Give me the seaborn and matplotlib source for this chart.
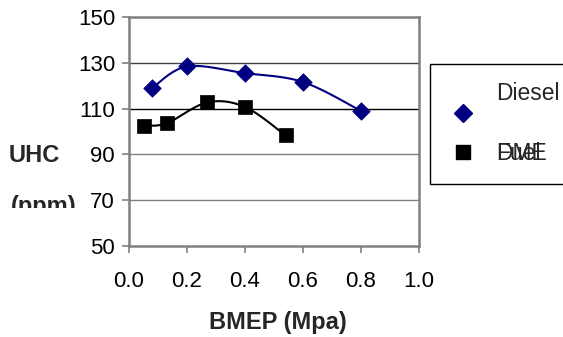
import numpy as np
import pandas as pd
import matplotlib
matplotlib.use("Agg")
import matplotlib.pyplot as plt
import seaborn as sns
from matplotlib.lines import Line2D
from matplotlib.patches import Rectangle
from matplotlib.transforms import Bbox

# ---- data ----
diesel_bmep = [0.08, 0.20, 0.40, 0.60, 0.80]
diesel_uhc = [119.0, 128.4, 125.5, 121.6, 109.0]
dme_bmep = [0.05, 0.13, 0.27, 0.40, 0.54]
dme_uhc = [102.6, 103.6, 112.7, 110.7, 98.3]
xticks = [0.0, 0.2, 0.4, 0.6, 0.8, 1.0]
yticks = [50, 70, 90, 110, 130, 150]


def smooth(xs, ys, n=30):
    """Excel-like smoothed line: cubic Bezier segments with Catmull-Rom controls."""
    p = np.column_stack([xs, ys]).astype(float)
    pts = []
    for i in range(len(p) - 1):
        p0 = p[i - 1] if i > 0 else p[i]
        p1 = p[i]
        p2 = p[i + 1]
        p3 = p[i + 2] if i + 2 < len(p) else p[i + 1]
        c1 = p1 + (p2 - p0) / 6.0
        c2 = p2 - (p3 - p1) / 6.0
        t = np.linspace(0, 1, n)[:, None]
        seg = ((1 - t) ** 3) * p1 + 3 * ((1 - t) ** 2) * t * c1 + 3 * (1 - t) * t ** 2 * c2 + t ** 3 * p2
        pts.append(seg if i == 0 else seg[1:])
    arr = np.vstack(pts)
    return arr[:, 0], arr[:, 1]


sns.set_theme(style="white")
plt.rcParams["font.family"] = ["Liberation Sans", "DejaVu Sans"]

W, H = 563, 337
fig = plt.figure(figsize=(W / 100, H / 100), dpi=100)
ax = fig.add_axes([129 / W, (H - 246) / H, (419 - 129) / W, (246 - 17) / H])

# gridlines
grid_colors = {70: "#808080", 90: "#808080", 110: "#000000", 130: "#404040"}
for yv, c in grid_colors.items():
    ax.axhline(yv, color=c, lw=1.0, zorder=1)

# smoothed curves
dx, dy = smooth(diesel_bmep, diesel_uhc)
mx, my = smooth(dme_bmep, dme_uhc)
sns.lineplot(x=dx, y=dy, sort=False, estimator=None, color="#000080", lw=1.5, ax=ax, zorder=3)
sns.lineplot(x=mx, y=my, sort=False, estimator=None, color="#000000", lw=1.5, ax=ax, zorder=3)

# markers
sns.scatterplot(x=diesel_bmep, y=diesel_uhc, marker="D", s=80, color="#000080",
                edgecolor="#000080", linewidth=0.5, ax=ax, zorder=4)
sns.scatterplot(x=dme_bmep, y=dme_uhc, marker="s", s=95, color="#000000",
                edgecolor="#000000", linewidth=0.5, ax=ax, zorder=4)

ax.set_xlim(0, 1.0)
ax.set_ylim(50, 150)
ax.set_xticks(xticks)
ax.set_xticklabels([f"{v:.1f}" for v in xticks])
ax.set_yticks(yticks)
ax.set_yticklabels([str(v) for v in yticks])
ax.tick_params(axis="both", direction="out", length=5, width=1.2, color="#808080",
               labelsize=16, labelcolor="black", bottom=True, left=True)
ax.tick_params(axis="x", pad=13)
ax.tick_params(axis="y", pad=5)
for s in ax.spines.values():
    s.set_visible(True)
    s.set_color("#808080")
    s.set_linewidth(1.8)
ax.set_xlabel("")
ax.set_ylabel("")

# axis titles
fig.text(278 / W, 1 - 323 / H, "BMEP (Mpa)", ha="center", va="center",
         fontsize=17, fontweight="bold")
fig.text(9 / W, 1 - 155 / H, "UHC", ha="left", va="center",
         fontsize=17, fontweight="bold")
t = fig.text(11 / W, 1 - 207 / H, "(ppm)", ha="left", va="center",
             fontsize=17, fontweight="bold")
t.set_clip_box(Bbox.from_extents(0, H - 208, 110, H - 185))
t.set_clip_on(True)

# legend (drawn manually, Excel-style)
fig.patches.append(Rectangle((430 / W, 1 - 184 / H), (W + 5 - 430) / W, (184 - 64) / H,
                             transform=fig.transFigure, fill=True, facecolor="white",
                             edgecolor="black", lw=1.0))
fig.lines.append(Line2D([463 / W], [1 - 113 / H], transform=fig.transFigure, marker="D",
                        markersize=9, color="#000080", ls="none"))
fig.lines.append(Line2D([463 / W], [1 - 152 / H], transform=fig.transFigure, marker="s",
                        markersize=10.5, color="#000000", ls="none"))
fig.text(496 / W, 1 - 93 / H, "Diesel", ha="left", va="center", fontsize=16.5)
fig.text(496 / W, 1 - 153 / H, "DME", ha="left", va="center", fontsize=16.5)
fig.text(496 / W, 1 - 153 / H, "Fuel", ha="left", va="center", fontsize=16.5)

fig.savefig("out.png", dpi=100)
